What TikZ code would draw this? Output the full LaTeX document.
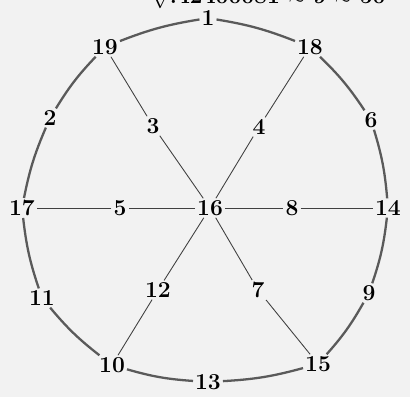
\documentclass[tikz,border=0pt]{standalone}
\usetikzlibrary{positioning}
\definecolor{bgcol}{HTML}{F2F2F2}
\definecolor{rimcol}{HTML}{5A5A5A}
\definecolor{spokecol}{HTML}{404040}
\tikzset{
  vtx/.style={inner sep=1pt, font=\fontsize{13}{15}\selectfont\bfseries},
  rim/.style={draw=rimcol, line width=1.3pt},
  spoke/.style={draw=spokecol, line width=0.5pt}
}
\begin{document}
\begin{tikzpicture}[x=0.02cm, y=-0.02cm]
\fill[bgcol] (0,0) rectangle (410,397);
\useasboundingbox (0,0) rectangle (410,397);
\node[vtx, anchor=base west, inner sep=0pt] (title) at (152,3) {$\surd$.42400081 $\approx$ 9 $\approx$ 50};
% outer vertices
\node[vtx] (n1) at (208,18) {1};
\node[vtx] (n19) at (105,47) {19};
\node[vtx] (n18) at (310,47) {18};
\node[vtx] (n2) at (50,118) {2};
\node[vtx] (n6) at (371,120) {6};
\node[vtx] (n17) at (22,208) {17};
\node[vtx] (n14) at (388,208) {14};
\node[vtx] (n11) at (42,298) {11};
\node[vtx] (n9) at (369,293) {9};
\node[vtx] (n10) at (112,365) {10};
\node[vtx] (n15) at (318,364) {15};
\node[vtx] (n13) at (208,382) {13};
% inner vertices
\node[vtx] (n16) at (210,208) {16};
\node[vtx] (n3) at (153,126) {3};
\node[vtx] (n4) at (259,127) {4};
\node[vtx] (n5) at (120,208) {5};
\node[vtx] (n8) at (292,208) {8};
\node[vtx] (n12) at (158,290) {12};
\node[vtx] (n7) at (258,290) {7};
% rim
\draw[rim] (n1) to[bend left=6] (n18);
\draw[rim] (n18) to[bend left=6] (n6);
\draw[rim] (n6) to[bend left=6] (n14);
\draw[rim] (n14) to[bend left=6] (n9);
\draw[rim] (n9) to[bend left=6] (n15);
\draw[rim] (n15) to[bend left=6] (n13);
\draw[rim] (n13) to[bend left=6] (n10);
\draw[rim] (n10) to[bend left=6] (n11);
\draw[rim] (n11) to[bend left=6] (n17);
\draw[rim] (n17) to[bend left=6] (n2);
\draw[rim] (n2) to[bend left=6] (n19);
\draw[rim] (n19) to[bend left=6] (n1);
% spokes
\draw[spoke] (n16) -- (n3) -- (n19);
\draw[spoke] (n16) -- (n4) -- (n18);
\draw[spoke] (n16) -- (n5) -- (n17);
\draw[spoke] (n16) -- (n8) -- (n14);
\draw[spoke] (n16) -- (n12) -- (n10);
\draw[spoke] (n16) -- (n7) -- (n15);
\end{tikzpicture}
\end{document}
